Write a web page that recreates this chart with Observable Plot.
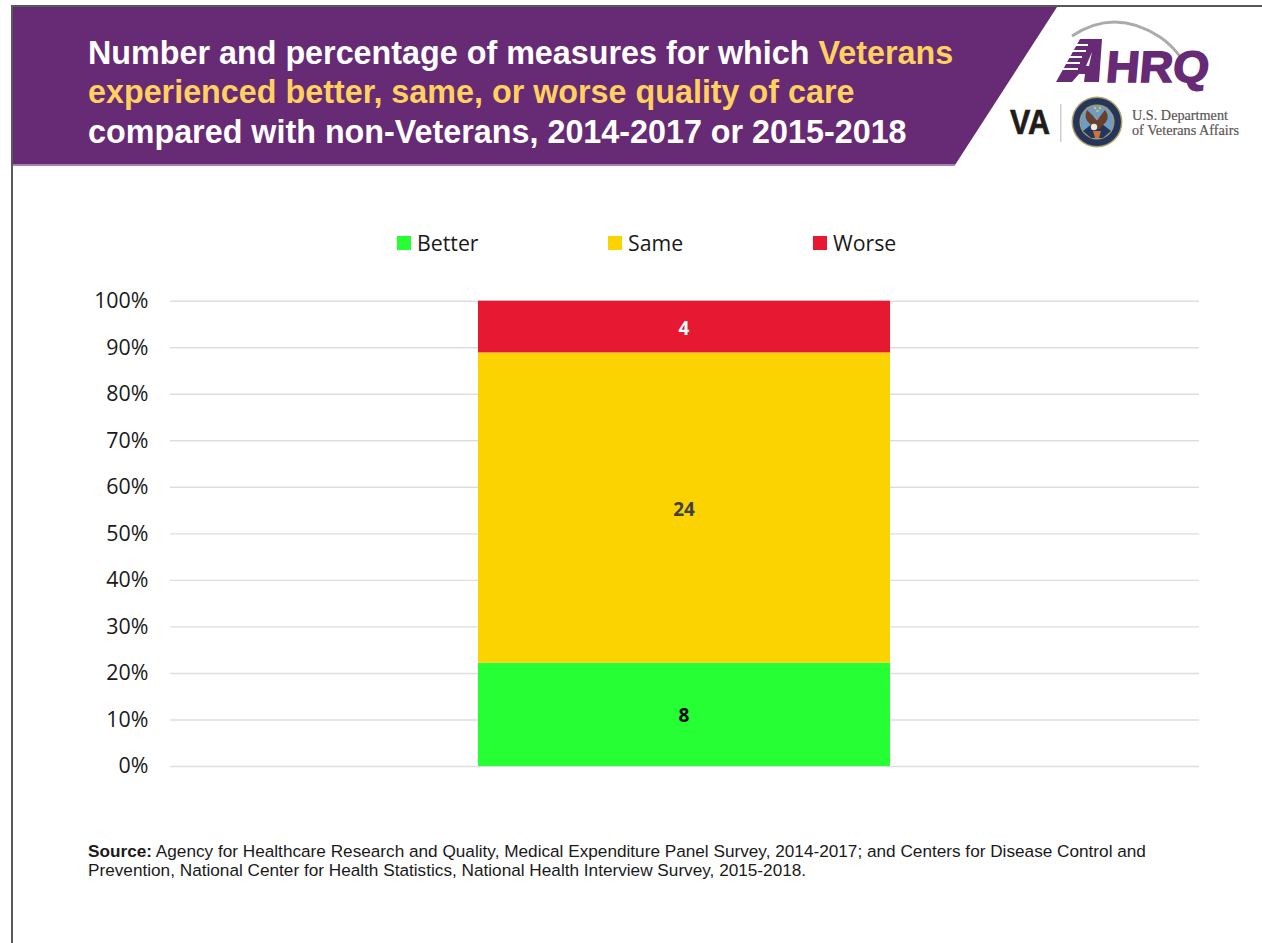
<!DOCTYPE html>
<html><head><meta charset="utf-8">
<script src="https://cdn.jsdelivr.net/npm/d3@7"></script>
<script src="https://cdn.jsdelivr.net/npm/@observablehq/plot@0.6"></script>
<style>
html,body{margin:0;padding:0;background:#fff;width:1262px;height:943px;overflow:hidden}
#frame{position:absolute;left:11px;top:5px;width:1249px;height:950px;border:2px solid #595959;box-sizing:content-box;}
#banner{position:absolute;left:13px;top:7px;width:1044px;height:158px;background:#672a75;clip-path:polygon(0 0,100% 0,942px 100%,0 100%);}
#bline{position:absolute;left:13px;top:164px;width:942px;height:1.5px;background:#a77fb0}
#title{position:absolute;left:88px;top:34px;font:bold 32.3px/39.4px "Liberation Sans",Arial,sans-serif;color:#fff;white-space:nowrap}
#title span{color:#ffd160}
#legend{position:absolute;top:231px;left:0;height:24px;font:21.3px/24px "Open Sans",sans-serif;color:#1a1a1a}
#legend div{position:absolute;top:0;white-space:nowrap}
#legend i{position:absolute;left:0;top:5px;width:14px;height:14px}
#legend b{position:absolute;left:20px;top:0;font-weight:400}
#chart{position:absolute;left:0;top:280px}
#source{position:absolute;left:88px;top:842px;width:1100px;font:17.2px/18.5px "Liberation Sans",Arial,sans-serif;color:#1a1a1a}
#logos{position:absolute;left:0;top:0}
</style></head><body>
<div id="frame"></div>
<div id="banner"></div><div id="bline"></div>
<div id="title">Number and percentage of measures for which <span>Veterans</span><br><span>experienced better, same, or worse quality of care</span><br>compared with non-Veterans, 2014-2017 or 2015-2018</div>
<svg id="logos" width="1262" height="170" xmlns="http://www.w3.org/2000/svg">
  <path d="M1072 36 Q1115 7.5 1160 37 Q1172 45 1181 58" fill="none" stroke="#a9acac" stroke-width="2.8"/>
  <g fill="#672a75">
    <path d="M1080 39 L1102 39 L1099 82 L1084 82 L1085 74 L1079 74 L1072 82 L1056 82 Z"/>
    <g transform="translate(1105 82) skewX(-5)">
      <text x="0" y="0" font-family="Liberation Sans" font-weight="700" font-size="44" textLength="103" lengthAdjust="spacingAndGlyphs" stroke="#672a75" stroke-width="1.5">HRQ</text>
    </g>
  </g>
  <g fill="#fff">
    <rect x="1072" y="44" width="16" height="2"/>
    <rect x="1068" y="50" width="18" height="2"/>
    <rect x="1064" y="56" width="18" height="2"/>
    <rect x="1060" y="62" width="20" height="2"/>
    <rect x="1056" y="68" width="22" height="2"/>
    <path d="M1092 52 L1089 66 L1086 66 Z"/>
  </g>
  <text x="1010" y="134" font-family="Liberation Sans" font-weight="700" font-size="35" fill="#211c1a" stroke="#211c1a" stroke-width=".7" textLength="40" lengthAdjust="spacingAndGlyphs">VA</text>
  <rect x="1060" y="104" width="1.5" height="38" fill="#cfcfcf"/>
  <circle cx="1097" cy="122" r="25.5" fill="#b3a26a"/>
  <circle cx="1097" cy="122" r="24" fill="#26365a"/>
  <circle cx="1097" cy="122" r="17.5" fill="#b59a55"/>
  <circle cx="1097" cy="122" r="16.5" fill="#6f9cc0"/>
  <path d="M1083 131 L1097 120 L1111 131 L1103 138 L1091 138 Z" fill="#26365a"/>
  <path d="M1087 110 Q1083 118 1090 124 L1095 129 L1099 129 L1106 122 Q1110 116 1105 110 Q1100 116 1097 121 Q1093 115 1087 110 Z" fill="#6b3f2a"/>
  <circle cx="1094" cy="127" r="3.2" fill="#efeae2"/>
  <path d="M1093 131 L1101 131 L1099 138 L1095 138 Z" fill="#c9743e"/>
  <circle cx="1095" cy="108" r="1.2" fill="#d8c25e"/><circle cx="1100" cy="108" r="1.2" fill="#d8c25e"/><circle cx="1097.5" cy="111" r="1.2" fill="#d8c25e"/>
  <g font-family="Liberation Serif" font-size="14.3" fill="#5a5654" stroke="#5a5654" stroke-width=".2">
    <text x="1132" y="120" textLength="96" lengthAdjust="spacingAndGlyphs">U.S. Department</text>
    <text x="1132" y="135" textLength="107" lengthAdjust="spacingAndGlyphs">of Veterans Affairs</text>
  </g>
</svg>
<div id="legend"></div>
<div id="chart"></div>
<div id="source"><b>Source:</b> Agency for Healthcare Research and Quality, Medical Expenditure Panel Survey, 2014-2017; and Centers for Disease Control and Prevention, National Center for Health Statistics, National Health Interview Survey, 2015-2018.</div>
<script>
const groups = ["Better", "Same", "Worse"];
const counts = [8, 24, 4];
const colors = ["#26ff33", "#fbd300", "#e61832"];
const labelColors = ["#000000", "#404040", "#ffffff"];
const legendX = [397, 608, 813];
const yTicks = [0,.1,.2,.3,.4,.5,.6,.7,.8,.9,1];
const rows = groups.map((g,i)=>({cat:"All",group:g,count:counts[i]}));

const leg = document.getElementById("legend");
groups.forEach((g,i)=>{
  const d=document.createElement("div");
  d.style.left=legendX[i]+"px";
  d.innerHTML=`<i style="background:${colors[i]}"></i><b>${g}</b>`;
  leg.appendChild(d);
});

const stack = {x:"cat", y:"count", offset:"normalize", order:groups};
const plot = Plot.plot({
  width:1262, height:506,
  marginLeft:170, marginRight:63, marginTop:20.7, marginBottom:20,
  style:{background:"transparent", fontFamily:"'Open Sans',sans-serif"},
  x:{axis:null, paddingInner:0, paddingOuter:0.75, domain:["All"]},
  y:{domain:[0,1], axis:null},
  color:{domain:groups, range:colors},
  marks:[
    Plot.gridY(yTicks,{stroke:"#dedede", strokeOpacity:1, strokeWidth:1.4}),
    Plot.axisY({ticks:yTicks, tickFormat:d=>Math.round(d*100)+"%", label:null, tickSize:0, tickPadding:22, fontSize:21.4, fill:"#1a1a1a"}),
    Plot.barY(rows, Plot.stackY({...stack, fill:"group", insetLeft:-1})),
    Plot.text(rows, Plot.stackY({...stack, text:"count", fill:d=>labelColors[groups.indexOf(d.group)], fontSize:19, fontWeight:700, dx:-1, dy:1.5}))
  ]
});
document.getElementById("chart").appendChild(plot);
</script>
</body></html>
